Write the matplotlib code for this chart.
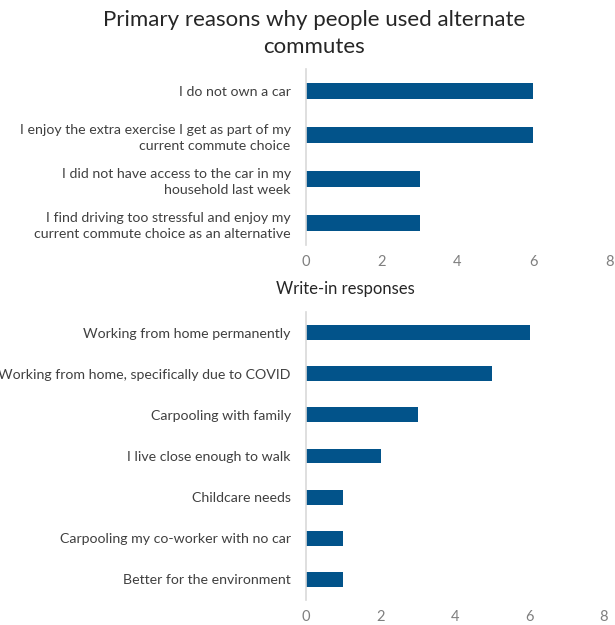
import matplotlib.pyplot as plt

# top chart data
reasons = [
    "I do not own a car",
    "I enjoy the extra exercise I get as part of my\ncurrent commute choice",
    "I did not have access to the car in my\nhousehold last week",
    "I find driving too stressful and enjoy my\ncurrent commute choice as an alternative",
]
reason_counts = [6, 6, 3, 3]

# bottom chart data
writeins = [
    "Working from home permanently",
    "Working from home, specifically due to COVID",
    "Carpooling with family",
    "I live close enough to walk",
    "Childcare needs",
    "Carpooling my co-worker with no car",
    "Better for the environment",
]
writein_counts = [6, 5, 3, 2, 1, 1, 1]

xticks = [0, 2, 4, 6, 8]

bar_color = "#02538A"
label_color = "#404040"
tick_color = "#7F7F7F"

plt.rcParams['font.family'] = ['Lato', 'DejaVu Sans']

W, H = 615, 625
fig = plt.figure(figsize=(W / 100, H / 100), dpi=100)


def make_axes(top_px, bottom_px, left_px=306, right_px=608):
    return fig.add_axes([left_px / W, 1 - bottom_px / H,
                         (right_px - left_px) / W, (bottom_px - top_px) / H])


def draw(ax, labels, values):
    y = list(range(len(labels)))
    ax.barh(y, values, height=0.36, color=bar_color)
    ax.set_ylim(len(labels) - 0.5, -0.5)
    ax.set_xlim(0, 8)
    ax.set_xticks(xticks)
    ax.set_yticks(y)
    ax.set_yticklabels(labels, fontsize=10.2, color=label_color, linespacing=1.45)
    ax.tick_params(axis='y', length=0, pad=11)
    ax.tick_params(axis='x', length=0, pad=7, labelsize=10.5, labelcolor=tick_color)
    for s in ['top', 'right', 'bottom']:
        ax.spines[s].set_visible(False)
    ax.spines['left'].set_color("#D9D9D9")
    ax.spines['left'].set_linewidth(1.2)


ax1 = make_axes(69, 245, right_px=609)
draw(ax1, reasons, reason_counts)

ax2 = make_axes(312, 600, right_px=604)
draw(ax2, writeins, writein_counts)

fig.text(314 / W, 1 - 20 / H, "Primary reasons why people used alternate",
         ha='center', va='center', fontsize=16, color="#262626")
fig.text(314 / W, 1 - 47 / H, "commutes",
         ha='center', va='center', fontsize=16, color="#262626")
fig.text(345 / W, 1 - 289 / H, "Write-in responses",
         ha='center', va='center', fontsize=12, color="#262626")

fig.savefig("out.png", dpi=100)
